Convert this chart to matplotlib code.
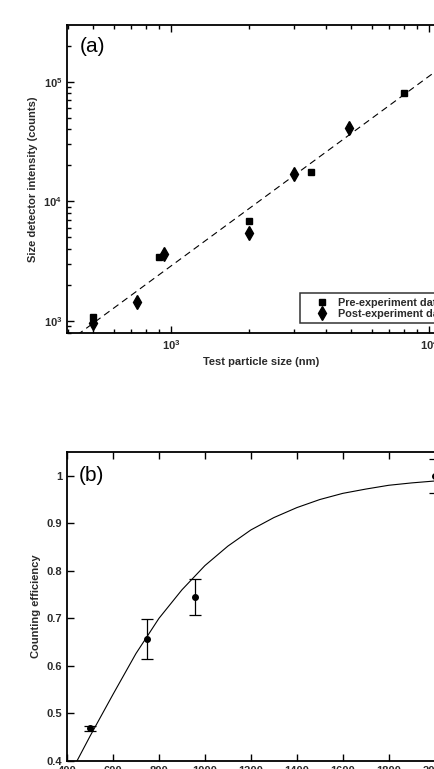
import numpy as np
import matplotlib
matplotlib.use('Agg')
import matplotlib.pyplot as plt
from matplotlib.ticker import FixedLocator, FuncFormatter

plt.rcParams['font.family'] = ['Liberation Sans', 'DejaVu Sans']
plt.rcParams['mathtext.fontset'] = 'custom'
plt.rcParams['mathtext.rm'] = 'Liberation Sans:bold'
plt.rcParams['mathtext.it'] = 'Liberation Sans:bold'
plt.rcParams['mathtext.bf'] = 'Liberation Sans:bold'

# (a) size detector calibration
pre_size = [500, 900, 2000, 3500, 8000]
pre_counts = [1080, 3450, 6800, 17500, 80000]
post_size = [500, 740, 940, 2000, 3000, 4900]
post_counts = [960, 1440, 3600, 5400, 17000, 41000]
fit_size = [400, 12000]
fit_counts = [674, 149000]

# (b) counting efficiency
eff_size = [500, 750, 955, 2000]
eff_value = [0.469, 0.657, 0.745, 1.0]
eff_err = [0.005, 0.042, 0.038, 0.036]
curve_size = [440, 500, 600, 700, 800, 900, 1000, 1100, 1200, 1300, 1400,
              1500, 1600, 1700, 1800, 1900, 2000]
curve_value = [0.397, 0.452, 0.540, 0.626, 0.700, 0.760, 0.811, 0.852, 0.886,
               0.912, 0.933, 0.950, 0.963, 0.972, 0.980, 0.985, 0.989]

txt = '#2a2a2a'
fig = plt.figure(figsize=(4.35, 7.69), dpi=100)

# panel (a)
ax1 = fig.add_axes([67 / 435, (769 - 333) / 769, 388 / 435, 308 / 769])
ax1.set_xscale('log')
ax1.set_yscale('log')
ax1.plot(fit_size, fit_counts, '--', color='k', lw=0.8, dashes=(6, 4))
ax1.plot(pre_size, pre_counts, 's', color='k', ms=5, label='Pre-experiment data')
ax1.plot(post_size, post_counts, 'd', color='k', ms=7.5, label='Post-experiment data')
ax1.set_xlim(10 ** 2.597, 10 ** 4.1)
ax1.set_ylim(794, 2.985e5)
ax1.set_xlabel('Test particle size (nm)', fontsize=8, fontweight='bold', color=txt)
ax1.set_ylabel('Size detector intensity (counts)', fontsize=8, fontweight='bold', color=txt)
ax1.text(0.033, 0.96, '(a)', transform=ax1.transAxes, fontsize=15, va='top', color='k')
leg = ax1.legend(loc='lower left', bbox_to_anchor=(0.60, 0.032),
                 prop={'weight': 'bold', 'size': 7.8}, frameon=True, fancybox=False,
                 edgecolor='k', borderpad=0.4, labelspacing=0.1, handletextpad=-0.16,
                 handlelength=3.28, borderaxespad=0)
leg.get_frame().set_linewidth(1.1)
for t in leg.get_texts():
    t.set_color(txt)

# panel (b)
ax2 = fig.add_axes([67 / 435, (769 - 761) / 769, 370 / 435, 309 / 769])
ax2.plot(curve_size, curve_value, '-', color='k', lw=0.8)
ax2.errorbar(eff_size, eff_value, yerr=eff_err, fmt='o', color='k', ms=4,
             capsize=4, elinewidth=0.9, capthick=0.9)
ax2.set_xlim(400, 2010)
ax2.set_ylim(0.4, 1.05)
ax2.xaxis.set_major_locator(FixedLocator(list(range(400, 2001, 200))))
ax2.yaxis.set_major_locator(FixedLocator([0.4, 0.5, 0.6, 0.7, 0.8, 0.9, 1.0]))
ax2.yaxis.set_major_formatter(FuncFormatter(lambda v, p: '%g' % v))
ax2.set_ylabel('Counting efficiency', fontsize=8, fontweight='bold', color=txt)
ax2.set_xlabel('Particle size (nm)', fontsize=8, fontweight='bold', color=txt)
ax2.text(0.033, 0.955, '(b)', transform=ax2.transAxes, fontsize=15, va='top', color='k')

for ax in (ax1, ax2):
    for s in ax.spines.values():
        s.set_linewidth(1.3)
    ax.tick_params(which='both', direction='in', top=True, right=False,
                   labelsize=8, colors='k', labelcolor=txt, width=1.0)
    ax.tick_params(which='major', length=5)
    ax.tick_params(which='minor', length=3)
    for lab in ax.get_xticklabels() + ax.get_yticklabels():
        lab.set_fontweight('bold')
ax2.tick_params(which='minor', left=False, right=False, top=False, bottom=False)

fig.savefig('out.png', dpi=100)
